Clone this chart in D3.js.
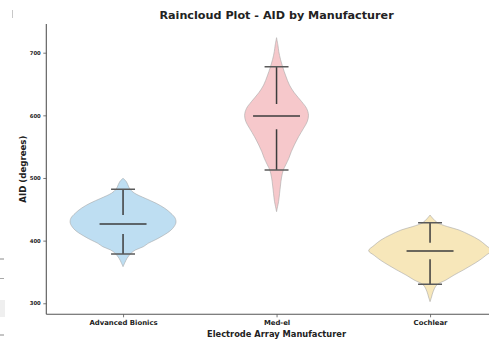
<!DOCTYPE html>
<html>
<head>
<meta charset="utf-8">
<script src="https://cdn.jsdelivr.net/npm/d3@7"></script>
<style>
  html, body { margin: 0; padding: 0; background: #ffffff; }
  svg { display: block; }
  text { font-family: "DejaVu Sans", sans-serif; font-weight: bold; fill: #222; }
</style>
</head>
<body>
<svg id="chart" width="489" height="340"></svg>
<script>
// Manufacturers along the x axis
const categories = ["Advanced Bionics", "Med-el", "Cochlear"];
const fills = ["#bedef2", "#f6c8cb", "#f7e7ba"];

// Density profiles: [AID in degrees, relative density]
const densityAB = [
  [499.5, 0], [494.6, 0.05], [489.4, 0.077], [482, 0.114], [475.6, 0.19],
  [467.6, 0.36], [459.6, 0.54], [451.6, 0.68], [443.6, 0.78], [435.7, 0.85],
  [428, 0.86], [419.7, 0.81], [414.3, 0.75], [406.3, 0.62], [401, 0.52],
  [395.7, 0.41], [390.3, 0.33], [385, 0.2], [379.8, 0.13], [371.8, 0.065],
  [365, 0.03], [358.4, 0]
];
const densityMedEl = [
  [724, 0], [711, 0.024], [701.6, 0.037], [689, 0.065], [677.2, 0.1],
  [663, 0.15], [648.4, 0.21], [636, 0.29], [621.8, 0.41], [611, 0.49],
  [600.2, 0.52], [590, 0.5], [579.3, 0.44], [566, 0.36], [552.7, 0.29],
  [542, 0.24], [531.4, 0.2], [521, 0.15], [512.8, 0.11], [500, 0.08],
  [488.8, 0.065], [475, 0.049], [462.2, 0.033], [454, 0.016], [446.2, 0]
];
const densityCochlear = [
  [440.9, 0], [435, 0.05], [428.6, 0.12], [422.5, 0.28], [417, 0.47],
  [409, 0.65], [401, 0.8], [392.5, 0.91], [384, 1.0], [376.5, 0.91],
  [369, 0.81], [361, 0.68], [353, 0.54], [345, 0.39], [337.2, 0.26],
  [329.2, 0.11], [318.5, 0.05], [310, 0.024], [302.6, 0]
];

// Box summaries: [min, q1, median, q3, max]
const boxAB = [378.7, 410.6, 426.6, 441, 482];
const boxMedEl = [512.8, 577.7, 599, 618, 677.7];
const boxCochlear = [330.3, 370.2, 383.5, 396.7, 428.6];

const yTicks = [300, 400, 500, 600, 700];

const title = "Raincloud Plot - AID by Manufacturer";
const xTitle = "Electrode Array Manufacturer";
const yTitle = "AID (degrees)";

const groups = categories.map((name, i) => ({
  name,
  fill: fills[i],
  density: [densityAB, densityMedEl, densityCochlear][i],
  box: [boxAB, boxMedEl, boxCochlear][i]
}));

const svg = d3.select("#chart");

const plot = { left: 46.3, top: 24, bottom: 314.3 };

const x = d3.scaleLinear().domain([-0.5, 2.5]).range([plot.left, plot.left + 3 * 153.5]);
const y = d3.scaleLinear().domain([282.4, 745.8]).range([plot.bottom, plot.top]);

// density 1.0 spans 0.4 of a category step on each side
const w = d3.scaleLinear().domain([0, 1]).range([0, x(0.4) - x(0)]);

const clip = svg.append("defs").append("clipPath").attr("id", "plot-clip")
  .append("rect").attr("x", plot.left).attr("y", 0).attr("width", 489 - plot.left).attr("height", plot.bottom);

const g = svg.append("g").attr("clip-path", "url(#plot-clip)");

// violins
const area = d3.area()
  .curve(d3.curveCatmullRom.alpha(0.5))
  .y(d => y(d[0]));

groups.forEach((grp, i) => {
  const cx = x(i);
  g.append("path")
    .datum(grp.density)
    .attr("d", area.x0(d => cx - w(d[1])).x1(d => cx + w(d[1])))
    .attr("fill", grp.fill)
    .attr("stroke", "#a8a8a8")
    .attr("stroke-width", 0.6);
});

// whiskers, caps and median lines
groups.forEach((grp, i) => {
  const cx = x(i);
  const [mn, q1, med, q3, mx] = grp.box;
  const capHalf = x(0.078) - x(0);
  const medHalf = x(0.153) - x(0);
  const bg = g.append("g");
  bg.append("line").attr("x1", cx).attr("x2", cx).attr("y1", y(q3)).attr("y2", y(mx))
    .attr("stroke", "#3c3c3c").attr("stroke-width", 1.5);
  bg.append("line").attr("x1", cx).attr("x2", cx).attr("y1", y(q1)).attr("y2", y(mn))
    .attr("stroke", "#3c3c3c").attr("stroke-width", 1.5);
  [mn, mx].forEach(v => {
    bg.append("line").attr("x1", cx - capHalf).attr("x2", cx + capHalf)
      .attr("y1", y(v)).attr("y2", y(v))
      .attr("stroke", "#5a5a5a").attr("stroke-width", 1.5);
  });
  bg.append("line").attr("x1", cx - medHalf).attr("x2", cx + medHalf)
    .attr("y1", y(med)).attr("y2", y(med))
    .attr("stroke", "#3c3c3c").attr("stroke-width", 1.5);
});

// axes
const yAxis = d3.axisLeft(y).tickValues(yTicks).tickSize(3).tickPadding(2.5);
const yg = svg.append("g").attr("transform", `translate(${plot.left},0)`).call(yAxis);
yg.select(".domain").attr("d", `M0,${plot.top}V${plot.bottom}`);
yg.selectAll("text").style("font-size", "5.3px").attr("fill", "#222");

const xAxis = d3.axisBottom(x).tickValues([0, 1, 2]).tickFormat(i => categories[i]).tickSize(3).tickPadding(3);
const xg = svg.append("g").attr("transform", `translate(0,${plot.bottom})`).call(xAxis);
xg.select(".domain").attr("d", `M${plot.left},0H${x(2.5)}`);
xg.selectAll("text").style("font-size", "6.9px").attr("fill", "#222");

svg.selectAll(".domain").attr("stroke", "#555").attr("stroke-width", 1.1);
svg.selectAll(".tick line").attr("stroke", "#555").attr("stroke-width", 0.8);

// titles
svg.append("text").attr("x", x(1)).attr("y", 18.8).attr("text-anchor", "middle")
  .style("font-size", "11.2px").attr("fill", "#2a2a2a").text(title);
svg.append("text").attr("x", x(1)).attr("y", 336.5).attr("text-anchor", "middle")
  .style("font-size", "8.3px").text(xTitle);
svg.append("text").attr("transform", `translate(25.5,${(plot.top + plot.bottom) / 2}) rotate(-90)`)
  .attr("text-anchor", "middle").style("font-size", "8.6px").text(yTitle);

// slivers of a neighbouring panel along the left edge
const edge = svg.append("g").attr("stroke", "#8a8a8a").attr("stroke-width", 1);
edge.append("line").attr("x1", 12.5).attr("x2", 12.5).attr("y1", 10).attr("y2", 18).attr("stroke", "#c8c8c8");
edge.append("line").attr("x1", 0).attr("x2", 4).attr("y1", 259).attr("y2", 259);
edge.append("line").attr("x1", 0).attr("x2", 4).attr("y1", 278.5).attr("y2", 278.5).attr("stroke", "#a8a8a8");
svg.append("rect").attr("x", 0).attr("y", 300).attr("width", 5).attr("height", 17).attr("fill", "#efefef");
edge.append("line").attr("x1", 0).attr("x2", 4).attr("y1", 335).attr("y2", 335);
</script>
</body>
</html>
